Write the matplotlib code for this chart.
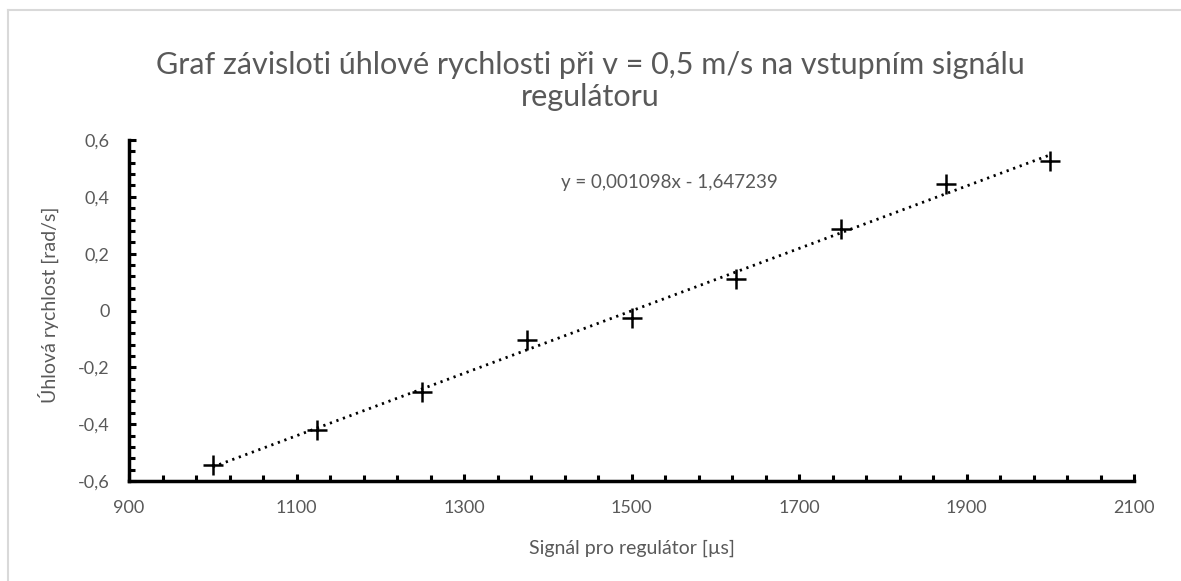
import matplotlib.pyplot as plt
from matplotlib.ticker import FixedLocator, MultipleLocator, FuncFormatter
from matplotlib.lines import Line2D
import numpy as np

# Signal to the regulator [us] and measured angular velocity [rad/s]
signal = [1000, 1125, 1250, 1375, 1500, 1625, 1750, 1875, 2000]
omega = [-0.544, -0.420, -0.287, -0.104, -0.026, 0.111, 0.287, 0.445, 0.526]

x_ticks = [900, 1100, 1300, 1500, 1700, 1900, 2100]
title = 'Graf závisloti úhlové rychlosti při v = 0,5 m/s na vstupním signálu\nregulátoru'
xlab = 'Signál pro regulátor [µs]'
ylab = 'Úhlová rychlost [rad/s]'
eq_text = 'y = 0,001098x - 1,647239'

plt.rcParams['font.family'] = ['Lato', 'DejaVu Sans']
grey = '#595959'

fig = plt.figure(figsize=(11.81, 5.81), dpi=100)
ax = fig.add_axes([129/1181, 1-481/581, 1005/1181, 341/581])

# linear trendline
k, q = np.polyfit(signal, omega, 1)
xs = np.array([signal[0], signal[-1]])
ax.plot(xs, k*xs + q, color='black', lw=2, linestyle=(0, (0.8, 1.7)))
ax.plot(signal, omega, linestyle='none', marker='+', ms=15, mew=1.8, color='black')

ax.set_xlim(900, 2100)
ax.set_ylim(-0.6, 0.6)
ax.xaxis.set_major_locator(FixedLocator(x_ticks))
ax.xaxis.set_minor_locator(FixedLocator(np.arange(900, 2101, 40)))
ax.yaxis.set_major_locator(MultipleLocator(0.2))
ax.yaxis.set_minor_locator(MultipleLocator(0.04))
ax.yaxis.set_major_formatter(FuncFormatter(lambda v, p: ('%g' % round(v, 2)).replace('.', ',')))

for s in ['top', 'right']:
    ax.spines[s].set_visible(False)
for s in ['left', 'bottom']:
    ax.spines[s].set_linewidth(2.5)
ax.tick_params(which='both', direction='in', width=2.2, color='black', labelcolor=grey, labelsize=13)
ax.tick_params(which='major', length=5)
ax.tick_params(which='minor', length=4)
ax.tick_params(axis='y', which='major', pad=14)
ax.tick_params(axis='x', which='major', pad=14)

ax.text(0.538, 0.874, eq_text, transform=ax.transAxes, ha='center', va='center',
        fontsize=13.5, color=grey)

fig.text(590/1181, 1-81/581, title, ha='center', va='center', fontsize=22,
         color=grey, linespacing=1.2)
fig.text(632/1181, 1-548/581, xlab, ha='center', va='center', fontsize=14, color=grey)
fig.text(48/1181, 1-305/581, ylab, ha='center', va='center', rotation=90,
         fontsize=14, color=grey)

# chart area border
fig.add_artist(Line2D([8/1181, 8/1181], [0, 1-10/581], color='#d9d9d9', lw=1.5))
fig.add_artist(Line2D([8/1181, 1], [1-10/581, 1-10/581], color='#d9d9d9', lw=1.5))

plt.savefig('out.png', dpi=100)
